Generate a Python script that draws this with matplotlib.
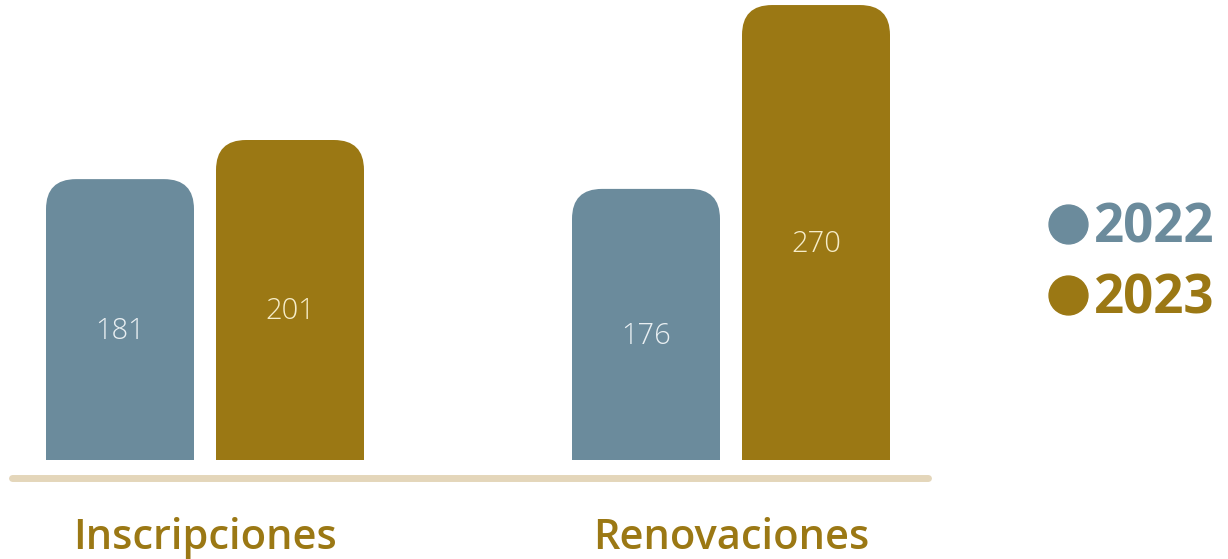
import matplotlib.pyplot as plt
from matplotlib.patches import FancyBboxPatch
from matplotlib.lines import Line2D

categorias = ["Inscripciones", "Renovaciones"]
anios = ["2022", "2023"]
valores_2022 = [181, 176]
valores_2023 = [201, 270]

azul = "#6b8b9c"
dorado = "#9b7814"
linea = "#e4d6ba"

plt.rcParams['font.family'] = ['Open Sans', 'DejaVu Sans']

fig = plt.figure(figsize=(12.28, 5.59), dpi=100)
ax = fig.add_axes([0, 99 / 559, 1, 460 / 559])

# escala: eje comienza en "base" para que las barras se parezcan a la infografia
base = 37.4
px_y = 1.956          # pixeles por unidad
px_x = 526.0          # pixeles por categoria
ax.set_xlim(-205 / px_x, (1228 - 205) / px_x)
ax.set_ylim(base, base + 460 / px_y)

ancho = 148 / px_x
desp = 85 / px_x
radio_px = 30
aspecto = (radio_px / px_y) / (radio_px / px_x)

series = [(valores_2022, azul, "#e9eff2", -desp), (valores_2023, dorado, "#f6edc9", desp)]
for vals, col, col_txt, d in series:
    for i, v in enumerate(vals):
        x0 = i + d - ancho / 2
        caja = FancyBboxPatch((x0, 0), ancho, v,
                              boxstyle=f"round,pad=0,rounding_size={radio_px / px_x}",
                              mutation_aspect=aspecto, fc=col, ec="none")
        ax.add_patch(caja)
        ax.text(i + d, (base + v) / 2 - 6, str(v), ha="center", va="center",
                fontsize=21, color=col_txt, fontweight="light")

# linea base
yl = base - 18 / px_y
ax.plot([-193 / px_x, 723 / px_x], [yl, yl], color=linea, lw=5,
        solid_capstyle="round", clip_on=False)

ax.set_xticks(range(len(categorias)))
ax.set_xticklabels(categorias, fontsize=30, fontweight="semibold", color=dorado)
ax.tick_params(axis="x", length=0, pad=41)
ax.set_yticks([])
for s in ax.spines.values():
    s.set_visible(False)

manijas = [Line2D([], [], marker="o", ls="", color=c, markersize=28) for c in (azul, dorado)]
fig.legend(manijas, anios, loc="center left", bbox_to_anchor=(1020 / 1228, 1 - 264 / 559),
           frameon=False, prop={"size": 38, "weight": "bold"},
           labelcolor=[azul, dorado],
           handlelength=0.8, handletextpad=0.1, labelspacing=0.32, borderpad=0)

fig.savefig("out.png", dpi=100)
